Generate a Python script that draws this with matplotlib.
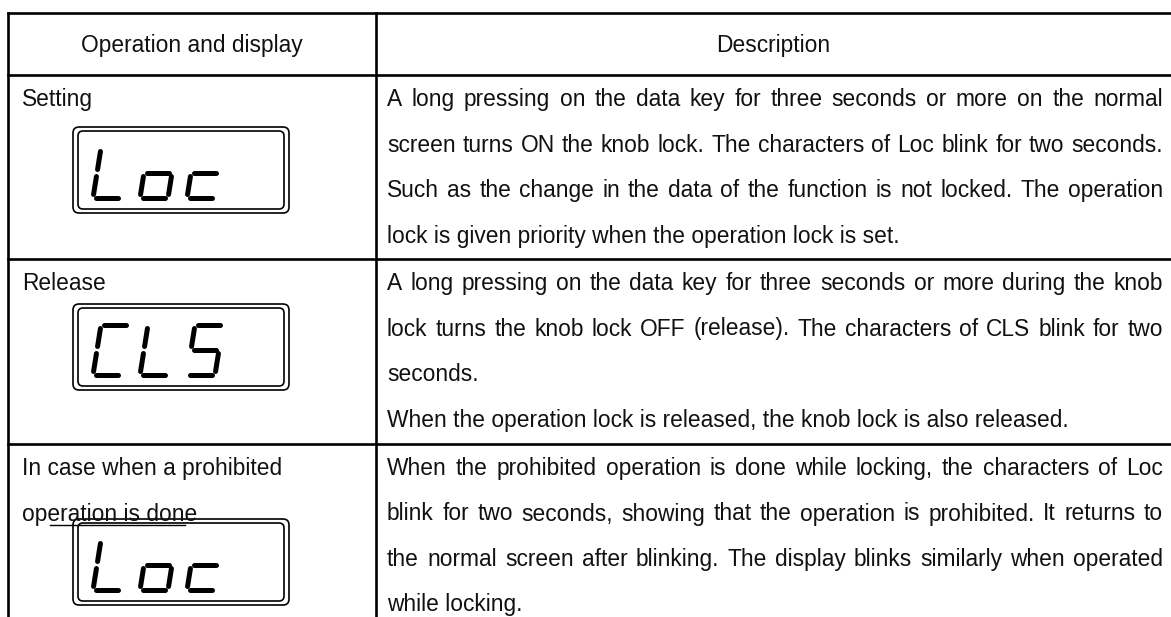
import matplotlib
matplotlib.use("Agg")
import matplotlib.pyplot as plt
from matplotlib.patches import FancyBboxPatch

# table content
headers = ["Operation and display", "Description"]
op_labels = [["Setting"], ["Release"], ["In case when a prohibited", "operation is done"]]
lcd_texts = ["Loc", "CLS", "Loc"]
desc_lines = [
    ["A long pressing on the data key for three seconds or more on the normal",
     "screen turns ON the knob lock. The characters of Loc blink for two seconds.",
     "Such as the change in the data of the function is not locked. The operation",
     "lock is given priority when the operation lock is set."],
    ["A long pressing on the data key for three seconds or more during the knob",
     "lock turns the knob lock OFF (release). The characters of CLS blink for two",
     "seconds.",
     "When the operation lock is released, the knob lock is also released."],
    ["When the prohibited operation is done while locking, the characters of Loc",
     "blink for two seconds, showing that the operation is prohibited. It returns to",
     "the normal screen after blinking. The display blinks similarly when operated",
     "while locking."],
]
desc_justify = [[True, True, True, False],
                [True, True, False, False],
                [True, True, True, False]]

# 7-segment shapes
SEG = {'a': ((0.12, 1.0), (0.88, 1.0)), 'b': ((1.0, 0.93), (1.0, 0.57)),
       'c': ((1.0, 0.43), (1.0, 0.07)), 'd': ((0.12, 0.0), (0.88, 0.0)),
       'e': ((0.0, 0.43), (0.0, 0.07)), 'f': ((0.0, 0.93), (0.0, 0.57)),
       'g': ((0.12, 0.5), (0.88, 0.5))}
CHARS = {'L': 'def', 'o': 'cdeg', 'c': 'deg', 'C': 'adef', 'S': 'acdfg'}

W, H = 1171, 617
fig = plt.figure(figsize=(W / 100, H / 100), dpi=100)
ax = fig.add_axes([0, 0, 1, 1])
ax.set_xlim(0, W)
ax.set_ylim(H, 0)
ax.axis("off")

FONT = dict(family=["Liberation Sans", "DejaVu Sans"], fontsize=16.4, color="#111111")
x_left, x_col, x_right = 8, 376, 1171
y_top, y_head = 13, 75
row_tops = [75, 259, 444]
lcd_tops = [127, 304, 519]
pitch = 45.5
base_off = 31

# grid lines
lw = 1.9
ax.plot([x_left, x_right], [y_top, y_top], color="black", lw=lw)
for y in [y_head] + row_tops[1:]:
    ax.plot([x_left, x_right], [y, y], color="black", lw=lw)
ax.plot([x_left, x_left], [y_top, H], color="black", lw=lw)
ax.plot([x_col, x_col], [y_top, H], color="black", lw=lw)

# header
ax.text((x_left + x_col) / 2, 52, headers[0], ha="center", va="baseline", **FONT)
ax.text((x_col + x_right) / 2, 52, headers[1], ha="center", va="baseline", **FONT)

renderer = fig.canvas.get_renderer()


def justified(x0, x1, yb, line, just):
    if not just:
        ax.text(x0, yb, line, ha="left", va="baseline", **FONT)
        return
    words = line.split(" ")
    ts = [ax.text(0, yb, w, ha="left", va="baseline", **FONT) for w in words]
    widths = [t.get_window_extent(renderer).width for t in ts]
    gap = (x1 - x0 - sum(widths)) / (len(words) - 1)
    x = x0
    for t, wd in zip(ts, widths):
        t.set_x(x)
        x += wd + gap


def lcd(x0, y0, text, w=216, h=86):
    ax.add_patch(FancyBboxPatch((x0, y0), w, h, boxstyle="round,pad=0,rounding_size=6",
                                fill=False, ec="black", lw=1.2))
    ax.add_patch(FancyBboxPatch((x0 + 5, y0 + 4), w - 10, h - 8,
                                boxstyle="round,pad=0,rounding_size=5",
                                fill=False, ec="black", lw=1.2))
    dw, dh, slant, dpitch = 28, 50, 8, 47
    for i, ch in enumerate(text):
        xl = x0 + 20 + i * dpitch
        yb = y0 + 71
        for s in CHARS[ch]:
            (u0, v0), (u1, v1) = SEG[s]
            xs = [xl + u0 * dw + slant * v0, xl + u1 * dw + slant * v1]
            ys = [yb - v0 * dh, yb - v1 * dh]
            ax.plot(xs, ys, color="black", lw=3.6, solid_capstyle="round")


for r in range(3):
    top = row_tops[r]
    for i, lab in enumerate(op_labels[r]):
        ax.text(22, top + base_off + i * pitch, lab, ha="left", va="baseline", **FONT)
    for i, line in enumerate(desc_lines[r]):
        justified(387, 1163, top + base_off + i * pitch, line, desc_justify[r][i])
    lcd(73, lcd_tops[r], lcd_texts[r])

# stray rule under "operation is done"
ax.plot([50, 185], [row_tops[2] + base_off + pitch + 4] * 2, color="black", lw=1.0)

fig.savefig("out.png", dpi=100)
